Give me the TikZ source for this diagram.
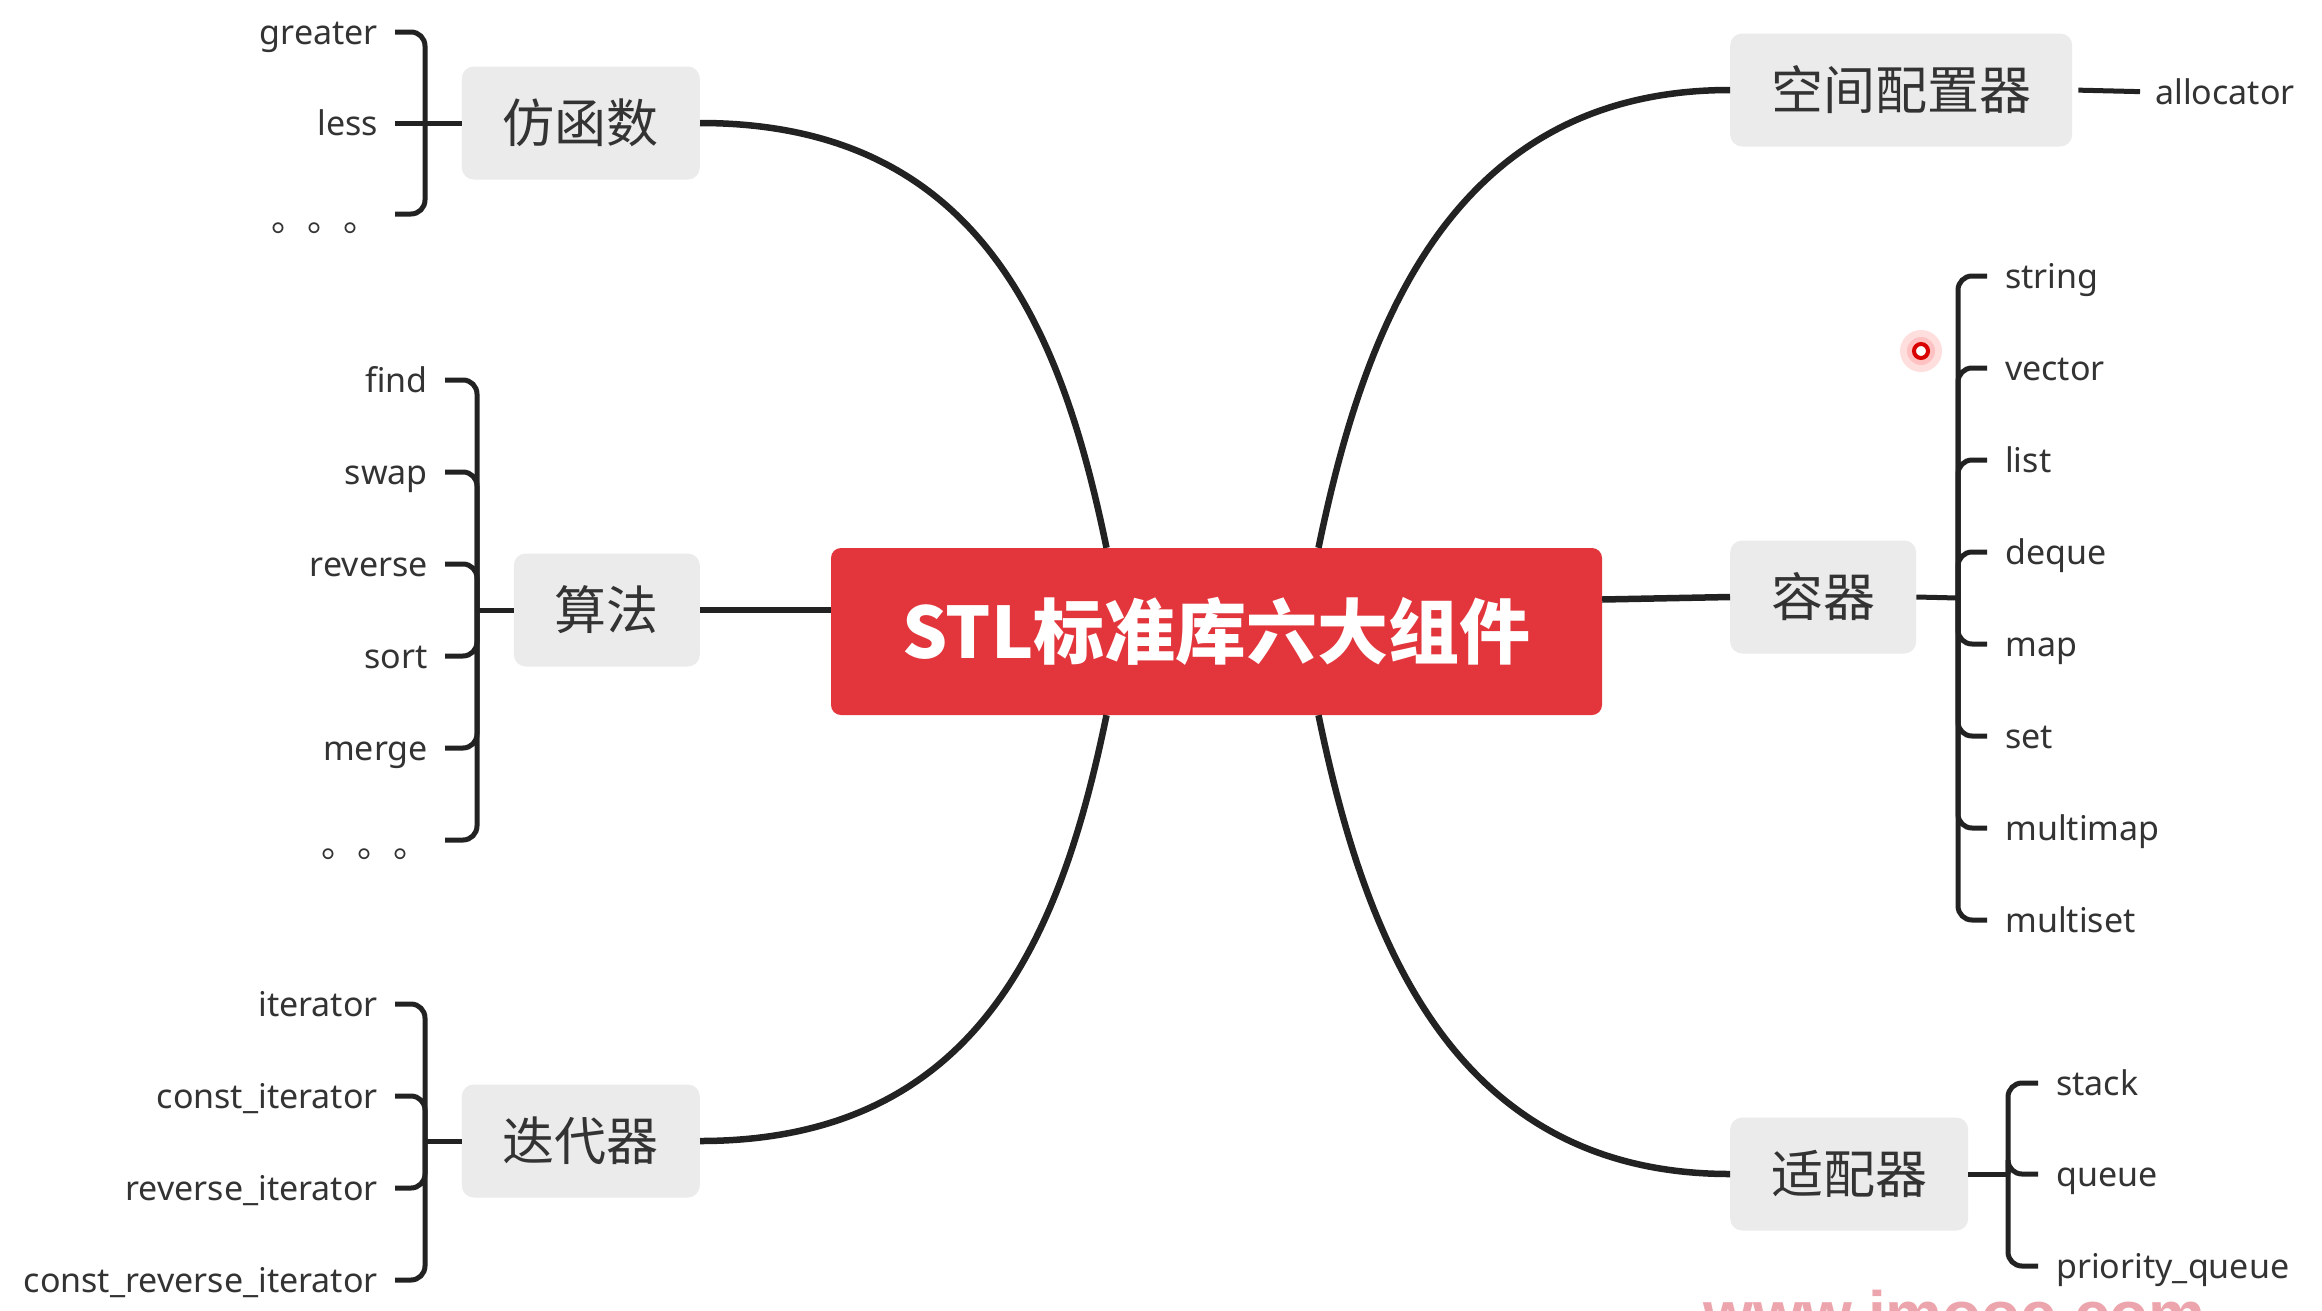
\documentclass[tikz,border=0pt]{standalone}
\usepackage{fontspec}
\setmainfont{Noto Sans}
\newfontfamily\cjk{Noto Sans CJK SC}
\newfontfamily\wmfont{Liberation Sans}
\definecolor{hubred}{RGB}{226,54,60}
\definecolor{boxgray}{RGB}{235,235,235}
\definecolor{ink}{RGB}{34,34,34}
\definecolor{labelc}{RGB}{51,51,51}
\definecolor{wmpink}{RGB}{236,165,172}
\tikzset{
  rootbox/.style={fill=hubred, rounded corners=10pt, text=white,
    font=\cjk\bfseries\fontsize{71}{80}\selectfont,
    minimum width=771pt, minimum height=167pt, inner sep=0pt},
  topicbox/.style={fill=boxgray, rounded corners=12pt, text=labelc,
    font=\cjk\fontsize{52}{60}\selectfont,
    minimum height=113pt, inner xsep=41pt, inner ysep=0pt},
  leaf/.style={text=labelc, font=\fontsize{34}{40}\selectfont,
    inner sep=0pt, text height=31pt, text depth=7pt},
  dotsleaf/.style={leaf, font=\cjk\fontsize{36}{40}\selectfont},
  mainline/.style={draw=ink, line width=6.5pt},
  brk/.style={draw=ink, line width=5pt, rounded corners=14pt},
}
\begin{document}
\begin{tikzpicture}[x=1pt,y=-1pt]
\useasboundingbox (0,0) rectangle (2322,1310);
\clip (0,0) rectangle (2322,1310);
\fill[white] (0,0) rectangle (2322,1310);

% root
\node[rootbox] (root) at (1216.5,631.5) {STL标准库六大组件};

% topics
\node[topicbox, anchor=east] (fang) at (700,123) {仿函数};
\node[topicbox, anchor=east] (suanfa) at (700,610) {算法};
\node[topicbox, anchor=east] (diedai) at (700,1141) {迭代器};
\node[topicbox, anchor=west] (kongjian) at (1730,90) {空间配置器};
\node[topicbox, anchor=west] (rongqi) at (1730,597) {容器};
\node[topicbox, anchor=west] (shipei) at (1730,1174) {适配器};

% main connectors
\draw[mainline] (fang.east) .. controls +(280,0) and +(-45,-218) .. ([xshift=-110pt]root.north);
\draw[mainline] (diedai.east) .. controls +(280,0) and +(-45,218) .. ([xshift=-110pt]root.south);
\draw[mainline] (kongjian.west) .. controls +(-280,0) and +(45,-218) .. ([xshift=102pt]root.north);
\draw[mainline] (shipei.west) .. controls +(-280,0) and +(45,218) .. ([xshift=102pt]root.south);
\draw[mainline] (suanfa.east) -- ([yshift=21.5pt]root.west);
\draw[mainline] (rongqi.west) -- ([yshift=32pt]root.east);

% 仿函数 leaves
\node[leaf, anchor=east] (greater) at (378,32) {greater};
\node[leaf, anchor=east] (less) at (378,123) {less};
\node[dotsleaf, anchor=east] (fdots) at (380,214) {\raisebox{-5pt}{。。。}};
\coordinate (fhub) at (425,123);
\draw[brk] ([xshift=17pt]greater.east) -| (fhub);
\draw[brk] ([xshift=17pt]less.east) -- (fhub);
\draw[brk] ([xshift=15pt]fdots.east) -| (fhub);
\draw[brk] (fhub) -- (fang.west);

% 算法 leaves
\node[leaf, anchor=east] (find) at (428,380) {find};
\node[leaf, anchor=east] (swap) at (428,472) {swap};
\node[leaf, anchor=east] (reverse) at (428,564) {reverse};
\node[leaf, anchor=east] (sort) at (428,656) {sort};
\node[leaf, anchor=east] (merge) at (428,748) {merge};
\node[dotsleaf, anchor=east] (sdots) at (430,840) {\raisebox{-5pt}{。。。}};
\coordinate (shub) at (477,610);
\foreach \n in {find,swap,reverse,sort,merge}
  \draw[brk] ([xshift=17pt]\n.east) -| (shub);
\draw[brk] ([xshift=15pt]sdots.east) -| (shub);
\draw[brk] (shub) -- (suanfa.west);

% 迭代器 leaves
\node[leaf, anchor=east] (it1) at (378,1004) {iterator};
\node[leaf, anchor=east] (it2) at (378,1096) {const\_iterator};
\node[leaf, anchor=east] (it3) at (378,1188) {reverse\_iterator};
\node[leaf, anchor=east] (it4) at (378,1280) {const\_reverse\_iterator};
\coordinate (dhub) at (425,1141);
\foreach \n in {it1,it2,it3,it4}
  \draw[brk] ([xshift=17pt]\n.east) -| (dhub);
\draw[brk] (dhub) -- (diedai.west);

% 空间配置器 leaf
\node[leaf, anchor=west] (alloc) at (2155,92) {allocator};
\draw[draw=ink, line width=5pt, shorten <=6pt, shorten >=15pt] (kongjian.east) -- (alloc.west);

% 容器 leaves
\node[leaf, anchor=west] (c1) at (2005,276) {string};
\node[leaf, anchor=west] (c2) at (2005,368) {vector};
\node[leaf, anchor=west] (c3) at (2005,460) {list};
\node[leaf, anchor=west] (c4) at (2005,552) {deque};
\node[leaf, anchor=west] (c5) at (2005,644) {map};
\node[leaf, anchor=west] (c6) at (2005,736) {set};
\node[leaf, anchor=west] (c7) at (2005,828) {multimap};
\node[leaf, anchor=west] (c8) at (2005,920) {multiset};
\coordinate (rhub) at (1958,598);
\foreach \n in {c1,c2,c3,c4,c5,c6,c7,c8}
  \draw[brk] (rhub) |- ([xshift=-18pt]\n.west);
\draw[brk] (rongqi.east) -- (rhub);

% 适配器 leaves
\node[leaf, anchor=west] (a1) at (2056,1083) {stack};
\node[leaf, anchor=west] (a2) at (2056,1174) {queue};
\node[leaf, anchor=west] (a3) at (2056,1266) {priority\_queue};
\coordinate (ahub) at (2008,1174);
\foreach \n in {a1,a2,a3}
  \draw[brk] (ahub) |- ([xshift=-18pt]\n.west);
\draw[brk] (shipei.east) -- (ahub);

% pointer mark
\fill[red!25, opacity=0.5] (1921,351) circle (21);
\fill[red!35, opacity=0.5] (1921,351) circle (14);
\draw[red!85!black, line width=4pt, fill=white] (1921,351) circle (7);

% watermark
\node[anchor=base west, text=wmpink, inner sep=0pt,
  font=\wmfont\bfseries\fontsize{64}{70}\selectfont] (wm) at (1703,1336) {www.imooc.com};
\end{tikzpicture}
\end{document}
